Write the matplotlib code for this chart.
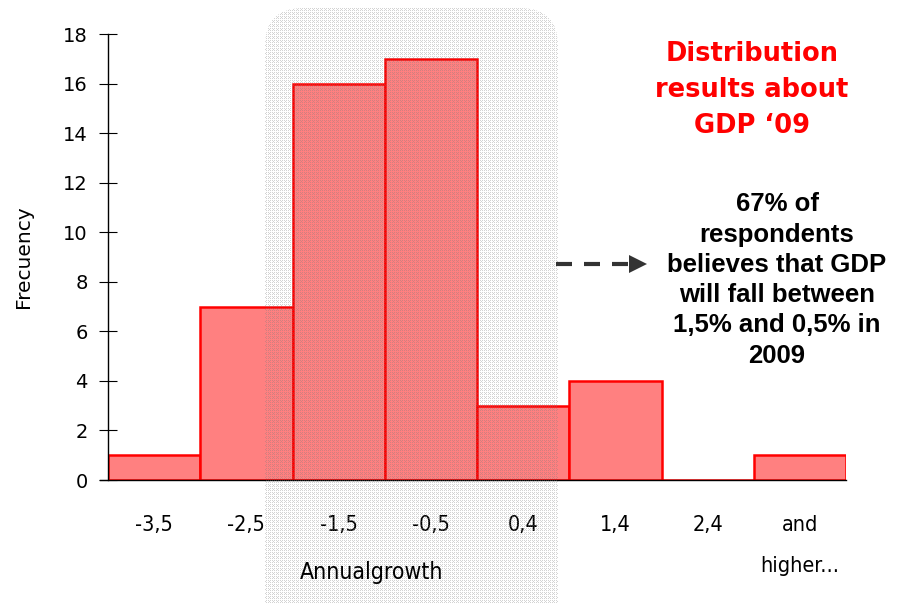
import matplotlib
matplotlib.use("Agg")
import matplotlib.pyplot as plt
from matplotlib.patches import FancyBboxPatch
from matplotlib.lines import Line2D
import numpy as np

# Histogram of expected annual GDP growth for 2009
categories = ["-3,5", "-2,5", "-1,5", "-0,5", "0,4", "1,4", "2,4", "and\nhigher..."]
frequency = [1, 7, 16, 17, 3, 4, 0, 1]
y_ticks = [0, 2, 4, 6, 8, 10, 12, 14, 16, 18]

W, H = 899, 603
fig = plt.figure(figsize=(W / 100, H / 100), dpi=100)
ax = fig.add_axes([108 / W, 1 - 480 / H, (846 - 108) / W, (480 - 34) / H])

x = np.arange(len(categories))
ax.bar(x, frequency, width=1.0, color="#FF8080", edgecolor="#FF0000",
       linewidth=1.8, zorder=2)

ax.set_xlim(-0.5, len(categories) - 0.5)
ax.set_ylim(0, 18)
ax.set_yticks(y_ticks)
ax.set_yticklabels([str(v) for v in y_ticks], fontsize=14, family="DejaVu Sans")
ax.tick_params(axis="y", direction="inout", length=13, width=0.8, pad=8)
ax.set_xticks(x)
ax.set_xticklabels(categories, fontsize=15.5, family="DejaVu Sans",
                   fontstretch="condensed", linespacing=2.35, va="top")
ax.tick_params(axis="x", length=0, pad=25)
for s in ("top", "right"):
    ax.spines[s].set_visible(False)
ax.spines["left"].set_linewidth(1.0)
ax.spines["bottom"].set_linewidth(1.0)
ax.spines["bottom"].set_bounds(-0.59, len(categories) - 0.5)

ax.set_ylabel("Frecuency", fontsize=14.5, labelpad=22)

# Stippled band highlighting the central bins
ov = fig.add_axes([0, 0, 1, 1], zorder=5)
ov.set_xlim(0, W)
ov.set_ylim(0, H)
ov.axis("off")
ov.patch.set_alpha(0)
yy, xx = np.mgrid[0:H, 0:W]
dots = ((xx % 2 == 0) & (yy % 2 == 0)) | ((xx % 4 == 1) & (yy % 4 == 1))
pattern = np.zeros((H, W, 4))
pattern[..., :3] = 0.5
pattern[..., 3] = np.where(dots, 0.34, 0.0)
img = ov.imshow(pattern, extent=[0, W, 0, H], origin="lower",
                interpolation="nearest", aspect="auto")
band = FancyBboxPatch((265, -60), 558 - 265, 595 + 60,
                      boxstyle="round,pad=0,rounding_size=38",
                      transform=ov.transData, facecolor="none", edgecolor="none")
ov.add_patch(band)
img.set_clip_path(band)

fig.text(372 / W, 1 - 573 / H, "Annualgrowth", ha="center", va="center",
         fontsize=16.5, fontstretch="condensed", family="DejaVu Sans", zorder=6)

fig.text(752 / W, 1 - 90 / H, "Distribution\nresults about\nGDP \u201809",
         ha="center", va="center", color="#FF0000", fontsize=18.5,
         fontweight="bold", linespacing=1.5, family="DejaVu Sans", zorder=6)

fig.text(777 / W, 1 - 280 / H,
         "67% of\nrespondents\nbelieves that GDP\nwill fall between\n1,5% and 0,5% in\n2009",
         ha="center", va="center", color="black", fontsize=18.5,
         fontweight="bold", linespacing=1.33, family="Liberation Sans", zorder=6)

# Dashed pointer towards the annotation
fig.add_artist(Line2D([556 / W, 628 / W], [1 - 264 / H, 1 - 264 / H],
                      transform=fig.transFigure, color="#333333",
                      linewidth=3, linestyle=(0, (3.84, 2.88)),
                      dash_capstyle="butt", zorder=6))
fig.add_artist(Line2D([638 / W], [1 - 264 / H], transform=fig.transFigure,
                      marker=">", markersize=13, color="#333333",
                      markeredgewidth=0, zorder=6))

fig.savefig("out.png", dpi=100)
